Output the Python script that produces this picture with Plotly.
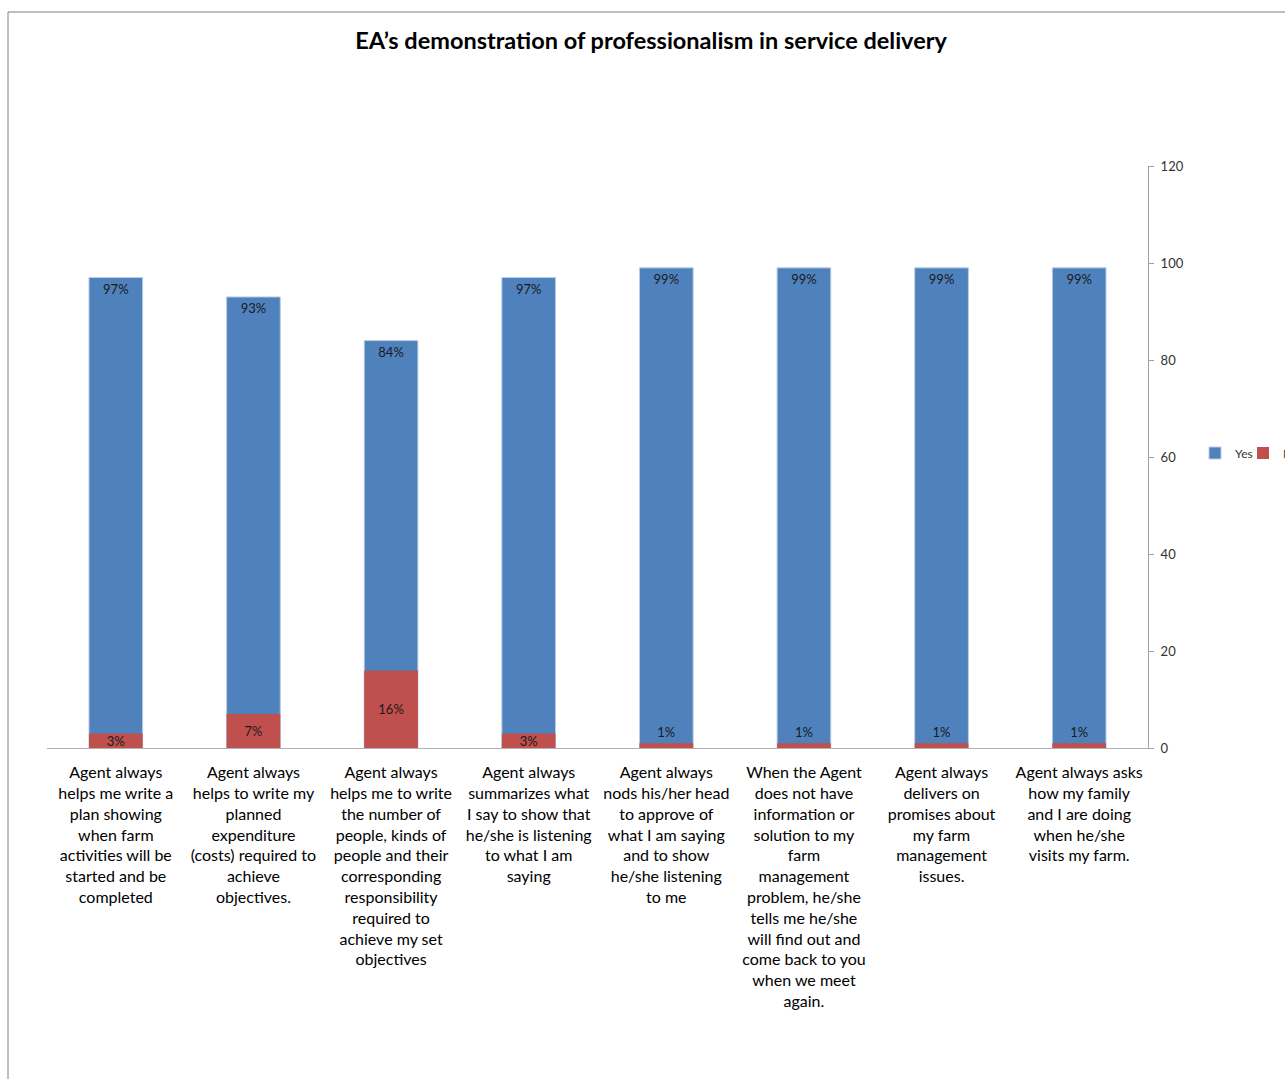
import plotly.graph_objects as go

categories = [
    "Agent always<br>helps me write a<br>plan showing<br>when farm<br>activities will be<br>started and be<br>completed",
    "Agent always<br>helps to write my<br>planned<br>expenditure<br>(costs) required to<br>achieve<br>objectives.",
    "Agent always<br>helps me to write<br>the number of<br>people, kinds of<br>people and their<br>corresponding<br>responsibility<br>required to<br>achieve my set<br>objectives",
    "Agent always<br>summarizes what<br>I say to show that<br>he/she is listening<br>to what I am<br>saying",
    "Agent always<br>nods his/her head<br>to approve of<br>what I am saying<br>and to show<br>he/she listening<br>to me",
    "When the Agent<br>does not have<br>information or<br>solution to my<br>farm<br>management<br>problem, he/she<br>tells me he/she<br>will find out and<br>come back to you<br>when we meet<br>again.",
    "Agent always<br>delivers on<br>promises about<br>my farm<br>management<br>issues.",
    "Agent always asks<br>how my family<br>and I are doing<br>when he/she<br>visits my farm.",
]
yes_values = [97, 93, 84, 97, 99, 99, 99, 99]
no_values = [3, 7, 16, 3, 1, 1, 1, 1]
y_ticks = [0, 20, 40, 60, 80, 100, 120]

BLUE = "#4F81BD"
RED = "#C0504D"
FONT = "Lato, Noto Sans, sans-serif"

fig = go.Figure()
fig.add_trace(go.Bar(
    x=categories, y=yes_values, name="Yes", legend="legend",
    marker=dict(color=BLUE, line=dict(color="#B9CDE5", width=1)),
    text=[f"{v}%" for v in yes_values],
    textposition="inside", insidetextanchor="end",
    constraintext="none",
    textfont=dict(family=FONT, size=13, color="#1a1a1a"),
))
fig.add_trace(go.Bar(
    x=categories, y=no_values, name="No", legend="legend2",
    marker=dict(color=RED, line=dict(width=0)),
    text=[f"{v}%" for v in no_values],
    textposition=["inside" if v > 1 else "outside" for v in no_values],
    insidetextanchor="middle",
    constraintext="none",
    textfont=dict(family=FONT, size=13, color="#1a1a1a"),
    cliponaxis=False,
))

legend_common = dict(
    orientation="h", xanchor="left",
    y=(748 - 453) / 582, yanchor="middle",
    font=dict(family=FONT, size=12, color="#333333"),
    bgcolor="rgba(0,0,0,0)",
)

fig.update_layout(
    width=1285, height=1079,
    barmode="overlay", bargap=0.61,
    plot_bgcolor="white", paper_bgcolor="white",
    margin=dict(l=47, r=137, t=166, b=331, autoexpand=False),
    title=dict(
        text="<b>EA’s demonstration of professionalism in service delivery</b>",
        x=651 / 1285, xanchor="center", xref="container",
        y=1 - 41 / 1079, yanchor="middle", yref="container",
        font=dict(family=FONT, size=23.5, color="#000000"),
    ),
    legend=dict(x=(1195 - 47) / 1101, **legend_common),
    legend2=dict(x=(1243 - 47) / 1101, **legend_common),
    showlegend=True,
    xaxis=dict(
        showgrid=False, showline=True, linecolor="#B0B0B0", linewidth=1,
        ticks="", tickfont=dict(family=FONT, size=16, color="#000000"),
        tickangle=0, ticklabelstandoff=10,
    ),
    yaxis=dict(
        side="right", range=[0, 120], tickvals=y_ticks,
        showgrid=False, zeroline=False, showline=True, linecolor="#A0A0A0", linewidth=1,
        ticks="outside", ticklen=5, tickcolor="#A0A0A0",
        tickfont=dict(family=FONT, size=13, color="#333333"),
        ticklabelstandoff=4,
    ),
    shapes=[dict(
        type="rect", xref="paper", yref="paper",
        x0=(8 - 47) / 1101, x1=1.3, y0=(748 - 1090) / 582, y1=(748 - 12) / 582,
        line=dict(color="#7F7F7F", width=1), fillcolor="rgba(0,0,0,0)", layer="below",
    )],
)

fig.write_html("out.html")
